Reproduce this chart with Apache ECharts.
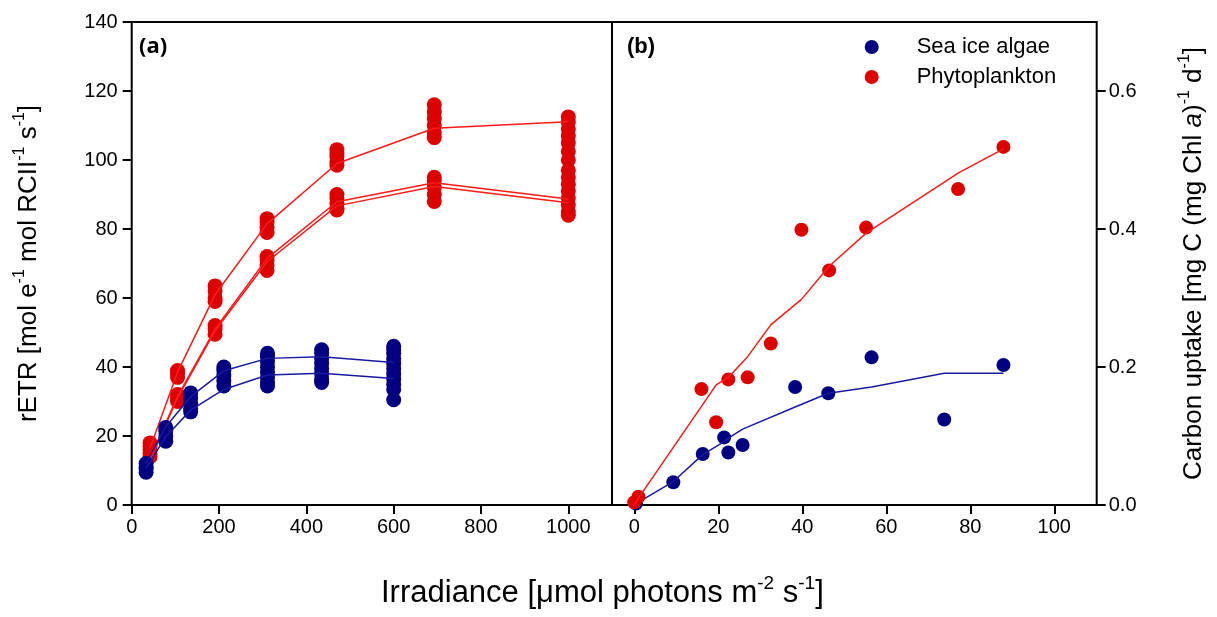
<!DOCTYPE html>
<html>
<head>
<meta charset="utf-8">
<title>rETR and carbon uptake</title>
<script src="https://cdn.jsdelivr.net/npm/echarts@6.0.0/dist/echarts.min.js"></script>
<style>
  html, body { margin: 0; padding: 0; background: #fff; }
  #chart { width: 1217px; height: 617px; }
</style>
</head>
<body>
<div id="chart"></div>
<script>
// ---- panel (a): rETR vs irradiance ----
const irrAlgae = [33, 78, 135, 211, 311, 435, 600];
const etrAlgae = [
  [12, 11, 10.5, 9.5],
  [22.5, 21.5, 20, 18.5],
  [32.5, 31, 29.5, 28, 27],
  [40, 39, 37.5, 36, 34.5],
  [44, 43, 41.5, 40, 38.5, 37, 35.5, 34.5],
  [45, 44, 42.5, 41, 39.5, 38, 36.5, 35.5],
  [46, 45, 44, 42.5, 41, 39.5, 38, 36.5, 35, 33.5, 30.5]
];
const fitAlgaeHigh = [12.1, 22.7, 31.4, 38.9, 42.5, 43.0, 41.3];
const fitAlgaeLow = [10.6, 19.8, 27.5, 33.5, 37.7, 38.2, 36.7];

const irrPhyto = [42, 105, 191, 310, 470, 693, 1000];
const etrPhyto = [
  [18, 17, 16, 15, 14],
  [39, 38, 37, 32, 31, 30],
  [63.5, 62, 60, 59, 52, 51, 49.5],
  [83, 82, 80.5, 79, 72, 71, 69.5, 68],
  [103, 102, 101, 99.5, 98.5, 90, 89, 87.5, 86, 85.5],
  [116, 114, 112, 110, 108, 106.5, 95, 94, 92, 90, 88],
  [112.5, 111, 109, 107, 105, 102.5, 100, 97, 95, 93, 91, 89, 87, 85, 84]
];
const fitPhytoA = [16.5, 38.5, 61, 81.5, 99, 109.2, 111.1];
const fitPhytoB = [13.5, 31.5, 51, 71.5, 87.9, 93.4, 88.7];
const fitPhytoC = [13, 31, 50.5, 70.5, 86.7, 92.3, 87.6];

// ---- panel (b): carbon uptake ----
const lightAlgaeB = [0.4, 9.3, 16.3, 21.4, 22.4, 25.8, 38.3, 46.2, 56.5, 73.8, 87.9];
const uptakeAlgae = [0.002, 0.033, 0.074, 0.098, 0.076, 0.087, 0.171, 0.162, 0.214, 0.124, 0.203];
const uptakeFitAlgae = [0.002, 0.034, 0.073, 0.092, 0.097, 0.110, 0.142, 0.162, 0.171, 0.191, 0.191];

const lightPhytoB = [0.0, 1.0, 16.0, 19.5, 22.4, 27.0, 32.5, 39.8, 46.4, 55.2, 77.1, 87.9];
const uptakePhyto = [0.004, 0.012, 0.168, 0.120, 0.182, 0.185, 0.234, 0.399, 0.340, 0.402, 0.458, 0.519];
const uptakeFitPhyto = [0.0, 0.01, 0.143, 0.174, 0.185, 0.215, 0.261, 0.298, 0.346, 0.394, 0.481, 0.516];

const xTicksA = [0, 200, 400, 600, 800, 1000];
const xTicksB = [0, 20, 40, 60, 80, 100];
const yTicksB = [0, 0.2, 0.4, 0.6];

const BLUE = "#000080";
const RED_DOT = "#dd0000";
const RED_LINE = "#ff1a1a";
const BLUE_LINE = "#1a1aa0";
const FONT = "Liberation Sans";

function groupPoints(xs, groups) {
  let out = [];
  xs.forEach((x, i) => {
    groups[i].forEach((v) => out.push([x, v]));
  });
  return out;
}
function zip(xs, ys) {
  return xs.map((x, i) => [x, ys[i]]);
}

const supRich = {
  n: { fontSize: 26, fontFamily: FONT, color: "#000", lineHeight: 34, fontWeight: "normal" },
  s: { fontSize: 16, fontFamily: FONT, color: "#000", verticalAlign: "top", fontWeight: "normal" },
  i: { fontSize: 26, fontFamily: FONT, color: "#000", fontStyle: "italic", lineHeight: 34, fontWeight: "normal" }
};

let chart = echarts.init(document.getElementById("chart"));

let option = {
  animation: false,
  backgroundColor: "#fff",
  title: [
    {
      text: "{n|Irradiance [}{n|μ}{n|mol photons m}{s|-2}{n| s}{s|-1}{n|]}",
      left: 381,
      top: 574,
      padding: 0,
      textStyle: {
        fontWeight: "normal",
        rich: {
          n: { fontSize: 31, fontFamily: FONT, color: "#000", lineHeight: 38, fontWeight: "normal" },
          s: { fontSize: 19, fontFamily: FONT, color: "#000", verticalAlign: "top", fontWeight: "normal" }
        }
      }
    },
    {
      text: "(a)",
      left: 139,
      top: 36,
      padding: 0,
      textStyle: { fontSize: 22, fontWeight: "bold", fontFamily: "Open Sans", color: "#000" }
    },
    {
      text: "(b)",
      left: 627,
      top: 36,
      padding: 0,
      textStyle: { fontSize: 22, fontWeight: "bold", fontFamily: FONT, color: "#000" }
    }
  ],
  legend: {
    data: ["Sea ice algae", "Phytoplankton"],
    orient: "vertical",
    left: 864.7,
    top: 36,
    padding: 0,
    icon: "circle",
    itemWidth: 14,
    itemHeight: 14,
    itemGap: 8,
    selectedMode: false,
    formatter: (name) => "{g|}{t|" + name + "}",
    textStyle: {
      rich: {
        g: { width: 33 },
        t: { fontSize: 22, fontFamily: FONT, color: "#000", lineHeight: 22 }
      }
    }
  },
  grid: [
    { left: 131.7, top: 22, width: 480.3, height: 483, show: true, borderColor: "#000", borderWidth: 2 },
    { left: 612, top: 22, width: 484.7, height: 483, show: true, borderColor: "#000", borderWidth: 2 }
  ],
  xAxis: [
    {
      gridIndex: 0,
      type: "value",
      min: 0,
      max: 1100,
      splitLine: { show: false },
      axisLine: { show: false, onZero: false },
      axisTick: { show: true, customValues: xTicksA, length: 9, lineStyle: { color: "#000", width: 2 } },
      axisLabel: {
        customValues: xTicksA,
        fontSize: 20,
        fontFamily: FONT,
        color: "#000",
        margin: 12,
        formatter: (v) => String(v)
      }
    },
    {
      gridIndex: 1,
      type: "value",
      min: -5.3,
      max: 110.1,
      splitLine: { show: false },
      axisLine: { show: false, onZero: false },
      axisTick: { show: true, customValues: xTicksB, length: 9, lineStyle: { color: "#000", width: 2 } },
      axisLabel: {
        customValues: xTicksB,
        fontSize: 20,
        fontFamily: FONT,
        color: "#000",
        margin: 12,
        formatter: (v) => String(v)
      }
    }
  ],
  yAxis: [
    {
      gridIndex: 0,
      type: "value",
      min: 0,
      max: 140,
      interval: 20,
      splitLine: { show: false },
      axisLine: { show: false, onZero: false },
      axisTick: { show: true, length: 9, lineStyle: { color: "#000", width: 2 } },
      axisLabel: { fontSize: 20, fontFamily: FONT, color: "#000", margin: 14 },
      name: "{n|rETR [mol e}{s|-1}{n| mol RCII}{s|-1}{n| s}{s|-1}{n|]}",
      nameLocation: "middle",
      nameRotate: 90,
      nameGap: 86,
      nameTextStyle: { rich: supRich }
    },
    {
      gridIndex: 1,
      type: "value",
      position: "right",
      min: 0,
      max: 0.7,
      splitLine: { show: false },
      axisLine: { show: false, onZero: false },
      axisTick: { show: true, customValues: yTicksB, length: 9, lineStyle: { color: "#000", width: 2 } },
      axisLabel: {
        customValues: yTicksB,
        fontSize: 20,
        fontFamily: FONT,
        color: "#000",
        margin: 12,
        formatter: (v) => v.toFixed(1)
      },
      name: "{n|Carbon uptake [mg C (mg Chl }{i|a}{n|)}{s|-1}{n| d}{s|-1}{n|]}",
      nameLocation: "middle",
      nameRotate: 90,
      nameGap: 80,
      nameTextStyle: { rich: supRich }
    }
  ],
  series: [
    // panel (a)
    {
      name: "Phytoplankton",
      type: "scatter",
      xAxisIndex: 0,
      yAxisIndex: 0,
      symbolSize: 15,
      itemStyle: { color: RED_DOT, opacity: 1 },
      z: 2,
      data: groupPoints(irrPhyto, etrPhyto)
    },
    {
      name: "fitPhytoA",
      type: "line",
      xAxisIndex: 0,
      yAxisIndex: 0,
      showSymbol: false,
      lineStyle: { color: RED_LINE, width: 1.5 },
      z: 3,
      data: zip(irrPhyto, fitPhytoA)
    },
    {
      name: "fitPhytoB",
      type: "line",
      xAxisIndex: 0,
      yAxisIndex: 0,
      showSymbol: false,
      lineStyle: { color: RED_LINE, width: 1.5 },
      z: 3,
      data: zip(irrPhyto, fitPhytoB)
    },
    {
      name: "fitPhytoC",
      type: "line",
      xAxisIndex: 0,
      yAxisIndex: 0,
      showSymbol: false,
      lineStyle: { color: RED_LINE, width: 1.5 },
      z: 3,
      data: zip(irrPhyto, fitPhytoC)
    },
    {
      name: "Sea ice algae",
      type: "scatter",
      xAxisIndex: 0,
      yAxisIndex: 0,
      symbolSize: 15,
      itemStyle: { color: BLUE, opacity: 1 },
      z: 4,
      data: groupPoints(irrAlgae, etrAlgae)
    },
    {
      name: "fitAlgaeHigh",
      type: "line",
      xAxisIndex: 0,
      yAxisIndex: 0,
      showSymbol: false,
      lineStyle: { color: BLUE_LINE, width: 1.5 },
      z: 5,
      data: zip(irrAlgae, fitAlgaeHigh)
    },
    {
      name: "fitAlgaeLow",
      type: "line",
      xAxisIndex: 0,
      yAxisIndex: 0,
      showSymbol: false,
      lineStyle: { color: BLUE_LINE, width: 1.5 },
      z: 5,
      data: zip(irrAlgae, fitAlgaeLow)
    },
    // panel (b)
    {
      name: "Sea ice algae",
      type: "scatter",
      xAxisIndex: 1,
      yAxisIndex: 1,
      symbolSize: 14,
      itemStyle: { color: BLUE, opacity: 1 },
      z: 2,
      data: zip(lightAlgaeB, uptakeAlgae)
    },
    {
      name: "uptakeFitAlgae",
      type: "line",
      xAxisIndex: 1,
      yAxisIndex: 1,
      showSymbol: false,
      lineStyle: { color: BLUE_LINE, width: 1.5 },
      z: 3,
      data: zip(lightAlgaeB, uptakeFitAlgae)
    },
    {
      name: "Phytoplankton",
      type: "scatter",
      xAxisIndex: 1,
      yAxisIndex: 1,
      symbolSize: 14,
      itemStyle: { color: RED_DOT, opacity: 1 },
      z: 4,
      data: zip(lightPhytoB, uptakePhyto)
    },
    {
      name: "uptakeFitPhyto",
      type: "line",
      xAxisIndex: 1,
      yAxisIndex: 1,
      showSymbol: false,
      lineStyle: { color: RED_LINE, width: 1.5 },
      z: 5,
      data: zip(lightPhytoB, uptakeFitPhyto)
    }
  ]
};

chart.setOption(option);
</script>
</body>
</html>
